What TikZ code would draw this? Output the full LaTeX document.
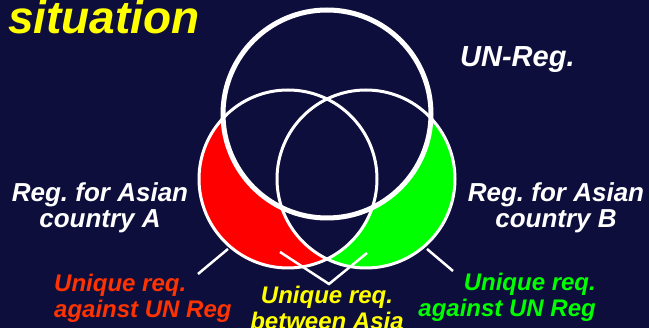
\documentclass[tikz,border=0pt]{standalone}
\usepackage{fontspec}
\setmainfont{Liberation Sans}
\frenchspacing
\definecolor{bg}{RGB}{14,14,60}
\definecolor{redtxt}{RGB}{255,51,0}
\definecolor{fillred}{RGB}{255,0,0}
\definecolor{fillgreen}{RGB}{0,255,0}
\definecolor{ylw}{RGB}{255,255,0}
\begin{document}
\begin{tikzpicture}[x=1pt,y=-1pt,
  lbl/.style={inner sep=0pt, font=\fontsize{26}{26.5}\selectfont\bfseries\itshape, text=white, align=center},
  note/.style={inner sep=0pt, font=\fontsize{24}{26}\selectfont\bfseries\itshape},
  ring/.style={draw=white, line width=3pt},
  pointer/.style={draw=white, line width=2.5pt}]
\fill[bg] (0,0) rectangle (649,328);
\useasboundingbox (0,0) rectangle (649,328);
\coordinate (cB) at (327,114);
\coordinate (cL) at (288,179);
\coordinate (cR) at (366,179);
% regions
\fill[fillred] (cL) circle[radius=89pt];
\fill[fillgreen] (cR) circle[radius=89pt];
\fill[bg] (cB) circle[radius=104pt];
\begin{scope}
  \clip (cL) circle[radius=89pt];
  \fill[bg] (cR) circle[radius=89pt];
\end{scope}
% outlines
\draw[ring] (cL) circle[radius=89pt];
\draw[ring] (cR) circle[radius=89pt];
\draw[ring, line width=5pt] (cB) circle[radius=104pt];
% texts
\node[anchor=base west, inner sep=0pt, text=ylw, font=\fontsize{46}{46}\selectfont\bfseries\itshape] (title) at (8,34) {situation};
\node[anchor=base west, inner sep=0pt, text=white, font=\fontsize{29}{29}\selectfont\bfseries\itshape] (un) at (460,67) {UN-Reg.};
\node[lbl, anchor=north] (ctyA) at (100,182) {Reg. for Asian\\country A};
\node[lbl, anchor=north] (ctyB) at (556,182) {Reg. for Asian\\country B};
\node[note, text=redtxt, anchor=north west, align=left] (uqA) at (54,274) {Unique req.\\against UN Reg};
\node[note, text=fillgreen, anchor=north east, align=right] (uqB) at (596,273) {Unique req.\\against UN Reg};
\node[note, text=ylw, anchor=north, align=center] (uqAsia) at (327,286) {Unique req.\\between Asia};
% pointers
\coordinate (pA1) at (198,274);
\coordinate (pA2) at (228,249);
\coordinate (pB1) at (453,271);
\coordinate (pB2) at (427,249);
\coordinate (pM1) at (280,252);
\coordinate (pM2) at (329,284);
\coordinate (pM3) at (367,253);
\draw[pointer] (pA1) -- (pA2);
\draw[pointer] (pB1) -- (pB2);
\draw[pointer] (pM1) -- (pM2) -- (pM3);
\end{tikzpicture}
\end{document}
